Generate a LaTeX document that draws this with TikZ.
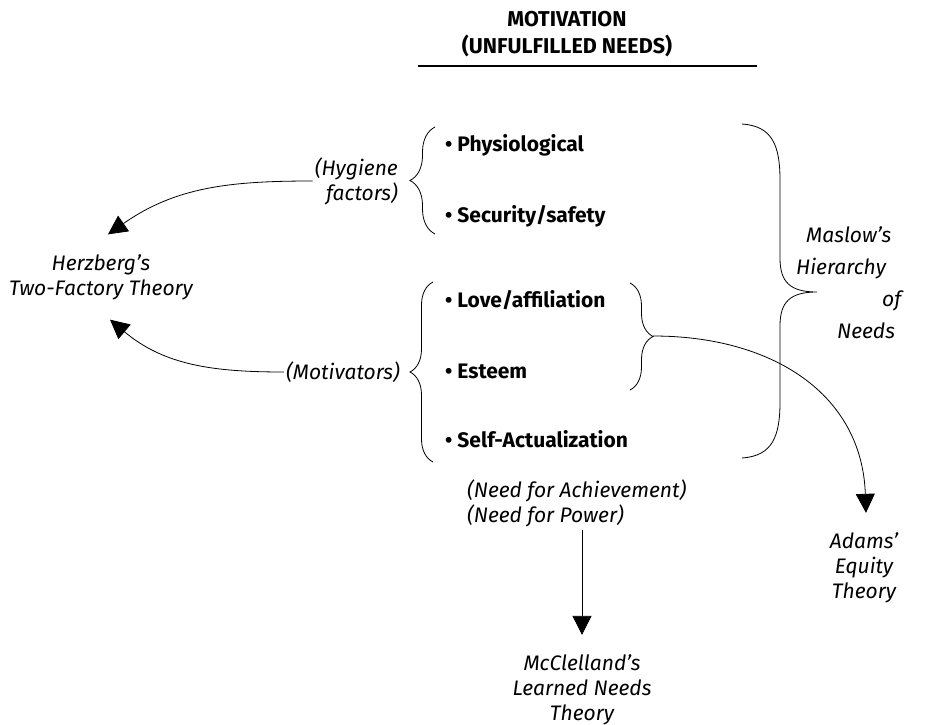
\documentclass[tikz,border=0pt]{standalone}
\usepackage{fontspec}
\setmainfont{Fira Sans}
\usetikzlibrary{arrows.meta,positioning,decorations.pathreplacing}

\begin{document}
\begin{tikzpicture}[x=1pt,y=1pt,
    need/.style={font=\fontsize{21}{24}\selectfont\bfseries,anchor=base west,inner sep=0pt},
    note/.style={font=\fontsize{21}{25}\selectfont\itshape,inner sep=2pt},
    theory/.style={note,align=center,outer sep=18pt},
    curly/.style={decorate,decoration={brace,amplitude=#1},line width=0.8pt},
    link/.style={line width=0.8pt,-{Triangle[length=19pt,width=19pt]}}]
  \useasboundingbox (0,0) rectangle (930,-725);

  % heading and rule
  \node[font=\fontsize{21.5}{27}\selectfont\bfseries,align=center] (head) at (567,-34)
    {MOTIVATION\\(UNFULFILLED NEEDS)};
  \draw[line width=1.6pt] (418,-66) -- (757,-66);

  % the needs, top to bottom
  \node[need] (phys)   at (445,-151) {\textbullet\ Physiological};
  \node[need] (safety) at (445,-222) {\textbullet\ Security/safety};
  \node[need] (love)   at (445,-307) {\textbullet\ Love/affiliation};
  \node[need] (esteem) at (445,-378) {\textbullet\ Esteem};
  \node[need] (self)   at (445,-447) {\textbullet\ Self-Actualization};

  % braces (drawn upwards = tip left, downwards = tip right)
  \draw[curly=25] (435,-234) -- (435,-127);
  \draw[curly=23] (433,-462) -- (433,-282);
  \draw[curly=23] (630,-283) -- (630,-390);
  \coordinate (pairtip) at (653,-336);
  \coordinate (allneeds) at (817,-292);
  \draw[line width=0.8pt] (742,-124) .. controls (772,-126) and (780,-145) .. (780,-180)
    -- (780,-258) .. controls (780,-282) and (790,-292) .. (allneeds)
    .. controls (790,-292) and (780,-302) .. (780,-326)
    -- (780,-402) .. controls (780,-437) and (772,-456) .. (742,-458);

  \node[note,align=right,anchor=east] (hyg) at (400,-181) {(Hygiene\\factors)};
  \node[note,anchor=east] (motiv) at (402,-372) {(Motivators)};
  \node[note,font=\fontsize{21}{32}\selectfont\itshape,align=left,anchor=west] (maslow) at (794,-283)
    {\hspace*{10pt}Maslow’s\\Hierarchy\\\hspace*{86pt}of\\\hspace*{41pt}Needs};
  \node[note,align=left,anchor=north west] (ach) at (465,-478)
    {(Need for Achievement)\\(Need for Power)};

  % theories
  \node[theory] (herz)  at (101,-277) {Herzberg’s\\Two-Factory Theory};
  \node[theory] (adams) at (864,-568) {Adams’\\Equity\\Theory};
  \node[theory] (mccl)  at (582,-690) {McClelland’s\\Learned Needs\\Theory};

  \draw[link] (hyg.west) to[out=180,in=35] ([xshift=7pt]herz.north);
  \draw[link] (motiv.west) to[out=180,in=-40] ([xshift=9pt]herz.south);
  \draw[link] (pairtip) to[out=0,in=92,looseness=1.1] ([xshift=2pt]adams.north);
  \draw[link] (ach.south -| mccl.north) -- (mccl.north);
\end{tikzpicture}
\end{document}
